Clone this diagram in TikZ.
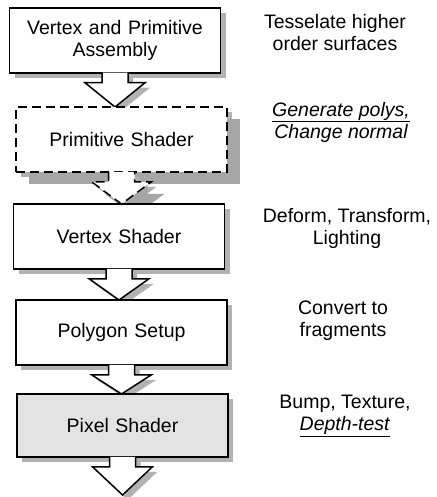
\documentclass[tikz,border=0pt]{standalone}
\usepackage{fontspec}
\setmainfont{Liberation Sans}
\usepackage{tikz}
\usetikzlibrary{positioning, calc, shadows}

% hollow block arrow from the bottom of one stage to the top of the next
\newcommand{\pipearrow}[3][]{%
  \filldraw[hollow, #1] ([xshift=-13pt, yshift=1pt]#2.south)
    -- ([xshift=-13pt, yshift=-9pt]#2.south)
    -- ([xshift=-30pt, yshift=-9pt]#2.south)
    -- (#2.south |- #3)
    -- ([xshift=30pt, yshift=-9pt]#2.south)
    -- ([xshift=13pt, yshift=-9pt]#2.south)
    -- ([xshift=13pt, yshift=1pt]#2.south);}

\begin{document}
\begin{tikzpicture}[
  x=1pt, y=-1pt,
  shade/.style={drop shadow={shadow xshift=5pt, shadow yshift=-5pt,
                fill=gray!60, opacity=1}},
  darkshade/.style={drop shadow={shadow xshift=13pt, shadow yshift=-12pt,
                fill=gray!70, opacity=1}},
  stage/.style={rectangle, draw=black, line width=1.5pt, fill=white,
               minimum width=211pt, minimum height=65pt, text width=195pt,
               align=center, inner sep=2pt,
               font=\fontsize{19.5}{22}\selectfont, shade},
  optstage/.style={stage, dash pattern=on 9pt off 5pt, darkshade},
  greystage/.style={stage, fill=gray!22},
  hollow/.style={draw=black, line width=1.5pt, fill=white, line join=miter, shade},
  note/.style={align=center, font=\fontsize{19.5}{22}\selectfont}
]
\useasboundingbox (0,0) rectangle (436,497);

% pipeline stages
\node[stage] (vpa) at (115,40.5) {Vertex and Primitive\\Assembly};
\pipearrow{vpa}{121,107}
\node[optstage] (ps) at (121.5,139.5) {Primitive Shader};
\pipearrow[dash pattern=on 9pt off 5pt, darkshade]{ps}{ps.south |- 204,204}
\node[stage] (vs) at (119,236.5) {Vertex Shader};
\pipearrow{vs}{121,300}
\node[stage] (pgs) at (121.5,332.5) {Polygon Setup};
\pipearrow{pgs}{121,394}
\node[greystage, minimum height=63pt] (pxs) at (122.5,425.5) {Pixel Shader};
\coordinate (sink) at (122.5,495);
\pipearrow{pxs}{sink}

% what each stage does
\node[note] (n1) at (335,33) {Tesselate higher\\order surfaces};
\node[note] (n2) at (341,122) {\underline{\textit{Generate polys,}}\\{\itshape Change normal}};
\node[note] (n3) at (347,228) {Deform, Transform,\\Lighting};
\node[note] (n4) at (343,321) {Convert to\\fragments};
\node[note] (n5) at (345,416) {Bump, Texture,\\\underline{\textit{Depth-test}}};

\end{tikzpicture}
\end{document}
